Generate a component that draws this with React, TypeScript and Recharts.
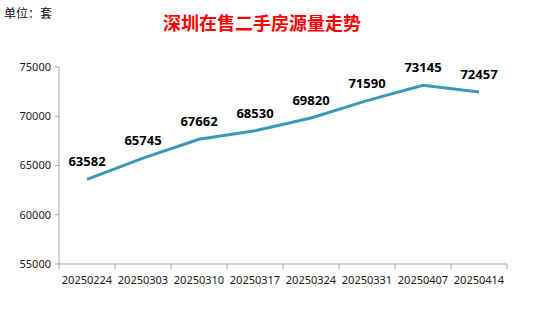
import { LabelList, Line, LineChart, XAxis, YAxis } from 'recharts'

const weeks = ['20250224', '20250303', '20250310', '20250317', '20250324', '20250331', '20250407', '20250414']
const listings = [63582, 65745, 67662, 68530, 69820, 71590, 73145, 72457]
const yTicks = [55000, 60000, 65000, 70000, 75000]

const data = weeks.map((week, i) => ({ week, listings: listings[i] }))

const AXIS_GREY = '#a6a6a6'
const X_TICK_SIZE = 5
const X_TICK_MARGIN = 7

// category axis with tick marks on band edges, like Excel
function EdgeTick(props: any) {
  const { x, y, payload, index, width, visibleTicksCount } = props
  const bw = width / visibleTicksCount
  const axisY = y - X_TICK_SIZE - X_TICK_MARGIN
  return (
    <g>
      <line x1={x - bw / 2} x2={x - bw / 2} y1={axisY} y2={axisY + X_TICK_SIZE} stroke={AXIS_GREY} />
      {index === visibleTicksCount - 1 && (
        <line x1={x + bw / 2} x2={x + bw / 2} y1={axisY} y2={axisY + X_TICK_SIZE} stroke={AXIS_GREY} />
      )}
      <text x={x} y={y} dy="0.71em" textAnchor="middle" fill="#1a1a1a" fontSize={11}>
        {payload.value}
      </text>
    </g>
  )
}

export default function App() {
  return (
    <div style={{ position: 'absolute', left: 0, top: 0, width: 557, height: 313, background: '#fff', fontFamily: '"Noto Sans", sans-serif' }}>
      <div style={{ position: 'absolute', left: 4, top: 4, fontSize: 12, color: '#111', fontFamily: '"Noto Sans CJK SC", sans-serif', lineHeight: '18px' }}>
        单位：套
      </div>
      <div
        style={{
          position: 'absolute',
          left: 162,
          top: 10,
          width: 200,
          textAlign: 'center',
          fontSize: 18,
          fontWeight: 700,
          color: '#ff0000',
          fontFamily: '"Noto Sans CJK SC", serif',
          lineHeight: '24px',
          whiteSpace: 'nowrap',
        }}
      >
        深圳在售二手房源量走势
      </div>
      <LineChart width={557} height={313} data={data} margin={{ top: 67, right: 50, bottom: 19, left: 0 }}>
        <XAxis
          dataKey="week"
          scale="band"
          stroke={AXIS_GREY}
          tickLine={false}
          tickSize={X_TICK_SIZE}
          tickMargin={X_TICK_MARGIN}
          interval={0}
          height={30}
          tick={<EdgeTick />}
        />
        <YAxis
          width={59}
          domain={[55000, 75000]}
          ticks={yTicks}
          stroke={AXIS_GREY}
          tickSize={4}
          tickMargin={4}
          tick={{ fill: '#1a1a1a', fontSize: 11 }}
        />
        <Line type="linear" dataKey="listings" stroke="#3a9ab5" strokeWidth={3} dot={false} isAnimationActive={false}>
          <LabelList dataKey="listings" position="top" offset={13} fill="#000" fontSize={13} fontWeight={700} />
        </Line>
      </LineChart>
    </div>
  )
}
